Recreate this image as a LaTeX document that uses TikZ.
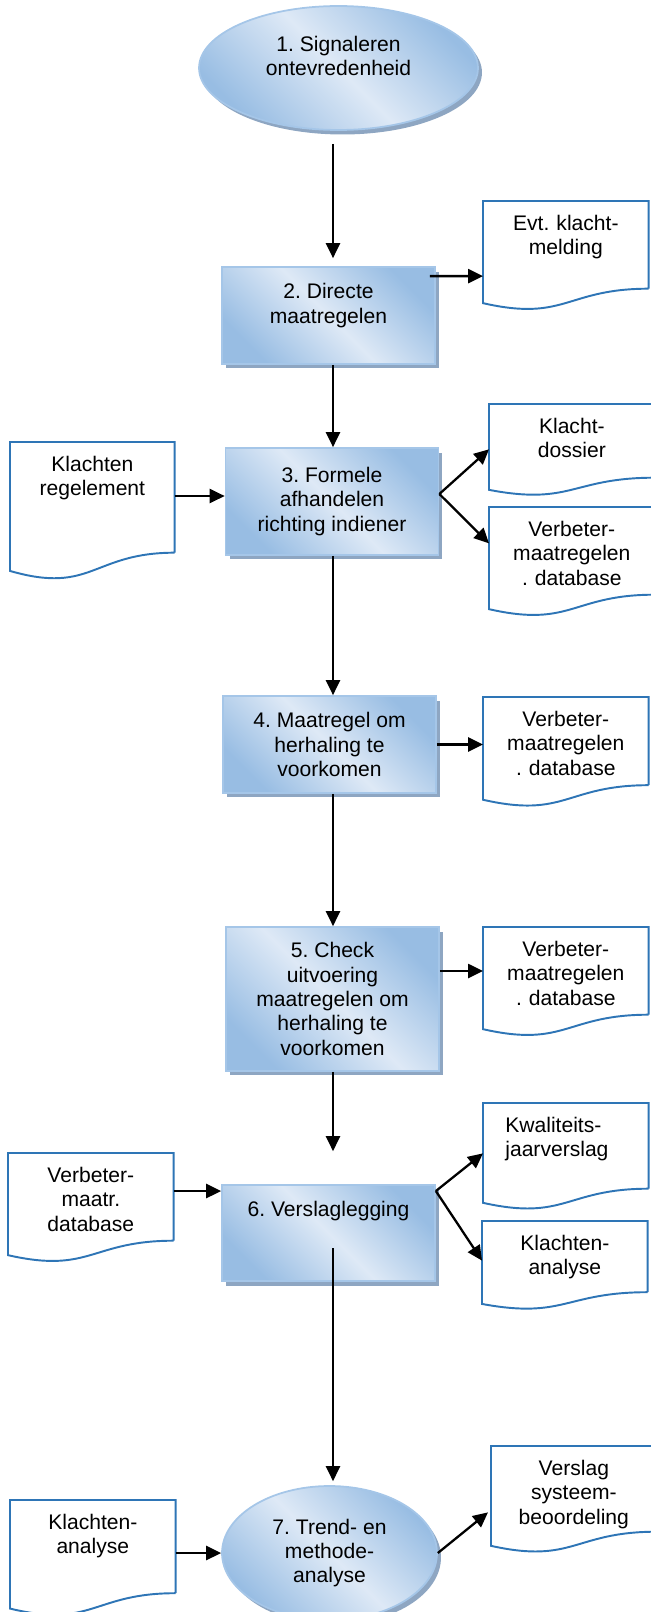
\documentclass[tikz,border=0pt]{standalone}
\usepackage{fontspec}
\setmainfont{Liberation Sans}
\frenchspacing
\usetikzlibrary{shapes.geometric,shadows,arrows.meta,calc}
\definecolor{blauwlicht}{HTML}{DEE9F6}
\definecolor{blauwdonker}{HTML}{98BDE3}
\definecolor{blauwrand}{HTML}{A5C6E8}
\definecolor{schaduw}{HTML}{8EA6C2}
\definecolor{docrand}{HTML}{2E75B6}
\tikzset{
	stap/.style={rectangle,draw=blauwrand,line width=1pt,top color=blauwdonker,bottom color=blauwdonker,middle color=blauwlicht,shading angle=-45,drop shadow={shadow xshift=.08cm,shadow yshift=-.09cm,fill=schaduw,opacity=1},align=center,inner sep=0pt,minimum width=4.26cm},
	ovaal/.style={stap,ellipse},
	doc/.style={rectangle,anchor=north west,inner sep=0pt,text width=3.3cm,align=center,text height=.58cm,text depth=#1},
	pijl/.style={line width=1.3pt,-{Triangle[length=8.5pt,width=8pt]}},
}
\begin{document}
\begin{tikzpicture}[x=.02cm,y=-.02cm,font=\fontsize{12}{13.9}\selectfont]
		\clip(0,0)rectangle(651,1612);
		\node[ovaal,minimum width=5.58cm,minimum height=2.48cm](stap1)at(338.5,68){1. Signaleren\\ontevredenheid\\~};
		\node[stap,minimum height=1.94cm](stap2)at(328.5,315.5){2. Directe\\maatregelen\\~};
		\node[stap,minimum height=2.14cm](stap3)at(332,501.5){3. Formele\\afhandelen\\richting indiener};
		\node[stap,minimum height=1.94cm](stap4)at(329.5,744.5){4. Maatregel om\\herhaling te\\voorkomen};
		\node[stap,minimum height=2.88cm](stap5)at(332.5,999){5. Check\\uitvoering\\maatregelen om\\herhaling te\\voorkomen};
		\node[stap,minimum height=1.92cm](stap6)at(328.5,1233){6. Verslaglegging\\~\\~};
		\node[ovaal,minimum width=4.3cm,minimum height=2.68cm](stap7)at(329.5,1553){7. Trend- en\\methode-\\analyse};
		\node[doc=1.16cm](evt)at(483,201){Evt. klacht-\\melding};
		\node[doc=.88cm](dossier)at(489,404){Klacht-\\dossier};
		\node[doc=1.16cm](verb3)at(489,507){Verbeter-\\maatregelen\\. database};
		\node[doc=1.17cm](verb4)at(483,697){Verbeter-\\maatregelen\\. database};
		\node[doc=1.16cm](verb5)at(483,927){Verbeter-\\maatregelen\\. database};
		\node[doc=1.62cm,text width=3.28cm](regl)at(10,442){Klachten\\regelement};
		\node[doc=1.16cm](verbm)at(8,1153){Verbeter-\\maatr.\\database};
		\node[doc=1.12cm,align=left](kwal)at(483,1103){\hspace*{.44cm}Kwaliteits-\\\hspace*{.44cm}jaarverslag};
		\node[doc=.83cm](klana)at(482,1221){Klachten-\\analyse};
		\node[doc=1.27cm](klanl)at(10,1500){Klachten-\\analyse};
		\node[doc=1.12cm](sysb)at(491,1446){Verslag\\systeem-\\beoordeling};
		\foreach \d in {evt,dossier,verb3,verb4,verb5,regl,verbm,kwal,klana,klanl,sysb}
			\draw[docrand,line width=1.1pt](\d.south east)--(\d.north east)--(\d.north west)--($(\d.north west)!1.165!(\d.south west)$)..controls($(\d.north)!1.38!(\d.south)$)and(\d.south)..(\d.south east);
		\coordinate(as)at(333,0);
		\draw[pijl,shorten <=.26cm,shorten >=.16cm](stap1.south-|as)--(stap2.north-|as);
		\draw[pijl](stap2.south-|as)--(stap3.north-|as);
		\draw[pijl](stap3.south-|as)--(stap4.north-|as);
		\draw[pijl](stap4.south-|as)--(stap5.north-|as);
		\draw[pijl,shorten >=.66cm](stap5.south-|as)--(stap6.north-|as);
		\draw[pijl,shorten >=.08cm]([yshift=-.3cm]stap6.center-|as)--(stap7.north-|as);
		\draw[pijl]([shift={(-6,10)}]stap2.north east)--([yshift=-.2cm]stap2.north east-|evt.west);
		\draw[pijl]([yshift=.11cm]stap3.west-|regl.east)--([yshift=.11cm]stap3.west);
		\draw[pijl]([yshift=.15cm]stap3.east)--([yshift=-.17cm]dossier.west);
		\draw[pijl]([yshift=.15cm]stap3.east)--([yshift=.15cm]verb3.west);
		\draw[pijl](stap4.east)--(stap4.east-|verb4.west);
		\draw[pijl]([yshift=.56cm]stap5.east)--([yshift=.56cm]stap5.east-|verb5.west);
		\draw[pijl]([yshift=.84cm]stap6.west-|verbm.east)--([yshift=.84cm]stap6.west);
		\draw[pijl]([yshift=.84cm]stap6.east)--([yshift=-.15cm]kwal.west);
		\draw[pijl]([yshift=.84cm]stap6.east)--([yshift=-.08cm]klana.west);
		\draw[pijl](stap7.west-|klanl.east)--(stap7.west);
		\draw[pijl](stap7.east)--([shift={(-3,23.5)}]sysb.west);
\end{tikzpicture}
\end{document}
